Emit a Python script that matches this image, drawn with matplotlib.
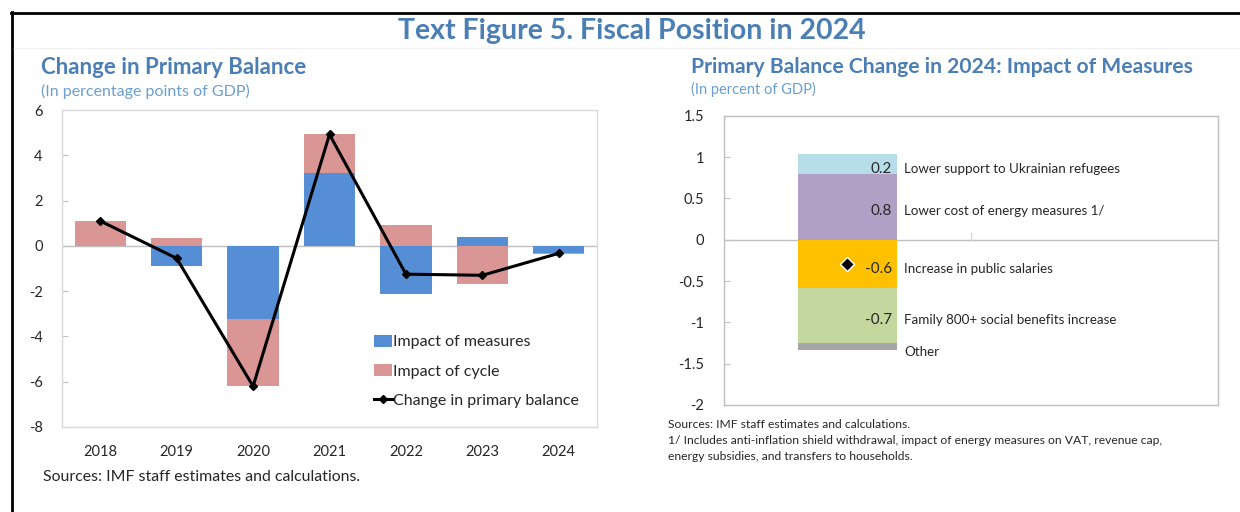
import matplotlib
matplotlib.use("Agg")
import matplotlib.pyplot as plt
import numpy as np

# ---------------- data ----------------
years = ["2018", "2019", "2020", "2021", "2022", "2023", "2024"]
impact_measures = [0.0, -0.87, -3.25, 3.22, -2.14, 0.38, -0.30]
impact_cycle = [1.10, 0.34, -2.95, 1.70, 0.91, -1.69, -0.05]
change_primary = [1.10, -0.55, -6.20, 4.92, -1.25, -1.30, -0.33]
left_yticks = [6, 4, 2, 0, -2, -4, -6, -8]

measure_names = ["Lower support to Ukrainian refugees",
                 "Lower cost of energy measures 1/",
                 "Increase in public salaries",
                 "Family 800+ social benefits increase",
                 "Other"]
measure_values = [0.24, 0.80, -0.58, -0.67, -0.09]
measure_labels = ["0.2", "0.8", "-0.6", "-0.7", ""]
net_change_2024 = -0.30
right_yticks = [1.5, 1, 0.5, 0, -0.5, -1, -1.5, -2]
right_yticklabels = ["1.5", "1", "0.5", "0", "-0.5", "-1", "-1.5", "-2"]

# ---------------- style ----------------
plt.rcParams['font.family'] = ['Lato', 'DejaVu Sans']
TITLE_BLUE = '#4A7EB5'
SUB_BLUE = '#6A9FCF'
TXT = '#262626'
W, H = 1240, 512
fig = plt.figure(figsize=(W / 100, H / 100), dpi=100)

def fx(px):
    return px / W

def fy(py):
    return 1 - py / H

# border lines (top & left)
fig.add_artist(plt.Line2D([fx(11), 1.0], [fy(12.5), fy(12.5)], color='black', lw=2))
fig.add_artist(plt.Line2D([fx(12), fx(12)], [fy(12), 0.0], color='black', lw=2))
fig.add_artist(plt.Line2D([fx(14), 1.0], [fy(48), fy(48)], color='#F0F0F0', lw=1))

fig.text(fx(632), fy(31.5), "Text Figure 5. Fiscal Position in 2024", ha='center', va='center',
         fontsize=20.5, fontweight='bold', color=TITLE_BLUE)

# ---------------- left chart ----------------
axL = fig.add_axes([fx(62), fy(427), fx(597 - 62), (427 - 110) / H])
x = np.arange(len(years))
meas = np.array(impact_measures)
cyc = np.array(impact_cycle)
cyc_bottom = np.where(np.sign(cyc) == np.sign(meas), meas, 0.0)
bw = 0.67
b1 = axL.bar(x, meas, width=bw, color='#558ED5', label='Impact of measures', zorder=2)
b2 = axL.bar(x, cyc, bottom=cyc_bottom, width=bw, color='#D99694', label='Impact of cycle', zorder=2)
l1, = axL.plot(x, change_primary, color='black', lw=2.2, marker='D', markersize=4,
               label='Change in primary balance', zorder=3)
axL.axhline(0, color='#BFBFBF', lw=1, zorder=1)
axL.set_xlim(-0.5, len(years) - 0.5)
axL.set_ylim(-8, 6)
axL.set_yticks(left_yticks)
axL.set_yticklabels([str(v) for v in left_yticks])
axL.set_xticks(x)
axL.set_xticklabels(years)
axL.tick_params(axis='y', direction='in', length=4, color='#BFBFBF', labelsize=10.5,
                labelcolor=TXT, pad=14)
axL.tick_params(axis='x', length=0, labelsize=10.5, labelcolor=TXT, pad=13)
for s in axL.spines.values():
    s.set_color('#D9D9D9')
    s.set_linewidth(1)
leg = axL.legend(handles=[b1, b2, l1], loc='upper left',
                 bbox_to_anchor=((374 - 62) / 535, (427 - 335) / 317),
                 frameon=False, fontsize=11.5, handlelength=1.1, handleheight=0.75,
                 handletextpad=0.12, labelspacing=0.93, borderaxespad=0, borderpad=0)
for t in leg.get_texts():
    t.set_color(TXT)

fig.text(fx(41), fy(67.5), "Change in Primary Balance", ha='left', va='center',
         fontsize=16, fontweight='bold', color=TITLE_BLUE)
fig.text(fx(41), fy(91), "(In percentage points of GDP)", ha='left', va='center',
         fontsize=11.5, color=SUB_BLUE)
fig.text(fx(43), fy(477), "Sources: IMF staff estimates and calculations.", ha='left',
         va='center', fontsize=11.4, color=TXT)

# ---------------- right chart ----------------
axR = fig.add_axes([fx(723.6), fy(405), fx(1218 - 723.6), (405 - 115.7) / H])
seg_colors = ['#B7DEE8', '#B1A0C6', '#FFC000', '#C4D79F', '#A6A6A6']
# stacking order: positive from 0 upward (energy then refugees), negatives downward
order = [1, 0, 2, 3, 4]
pos_base, neg_base = 0.0, 0.0
bottoms = [0.0] * len(measure_values)
for i in order:
    v = measure_values[i]
    if v >= 0:
        bottoms[i] = pos_base
        pos_base += v
    else:
        bottoms[i] = neg_base
        neg_base += v
bw2 = 0.4
for i in range(len(measure_values)):
    axR.bar(0, measure_values[i], bottom=bottoms[i], width=bw2, color=seg_colors[i], zorder=2)
    mid = bottoms[i] + measure_values[i] / 2
    if measure_labels[i]:
        axR.annotate(measure_labels[i], (bw2 / 2 - 0.02, mid), xytext=(0, -3.5),
                     textcoords='offset points', ha='right', va='center',
                     fontsize=11, color=TXT, zorder=4)
    axR.annotate(measure_names[i], (bw2 / 2 + 0.03, mid), xytext=(0, -3.5),
                 textcoords='offset points', ha='left', va='center',
                 fontsize=9.6, color=TXT, zorder=4)
axR.plot([0], [net_change_2024], marker='D', color='black', markersize=7,
         markeredgecolor='white', markeredgewidth=1, linestyle='none', zorder=5)
axR.axhline(0, color='#BFBFBF', lw=1, zorder=1)
axR.axvline(0.5, ymin=2 / 3.5, ymax=2 / 3.5 + 0.022, color='#D9D9D9', lw=1)
axR.set_xlim(-0.5, 1.5)
axR.set_ylim(-2, 1.5)
axR.set_yticks(right_yticks)
axR.set_yticklabels(right_yticklabels)
axR.set_xticks([])
axR.tick_params(axis='y', direction='in', length=4, color='#BFBFBF', labelsize=10.5,
                labelcolor=TXT, pad=14)
for s in axR.spines.values():
    s.set_color('#BFBFBF')
    s.set_linewidth(1)

fig.text(fx(691), fy(67), "Primary Balance Change in 2024: Impact of Measures", ha='left',
         va='center', fontsize=15.2, fontweight='bold', color=TITLE_BLUE)
fig.text(fx(691), fy(89.3), "(In percent of GDP)", ha='left', va='center',
         fontsize=10.5, color=SUB_BLUE)
notes = ["Sources: IMF staff estimates and calculations.",
         "1/ Includes anti-inflation shield withdrawal, impact of energy measures on VAT, revenue cap,",
         "energy subsidies, and transfers to households."]
for t, yy in zip(notes, [424, 440.7, 456]):
    fig.text(fx(668), fy(yy), t, ha='left', va='center', fontsize=8.7, color=TXT)

fig.savefig("out.png", dpi=100)
